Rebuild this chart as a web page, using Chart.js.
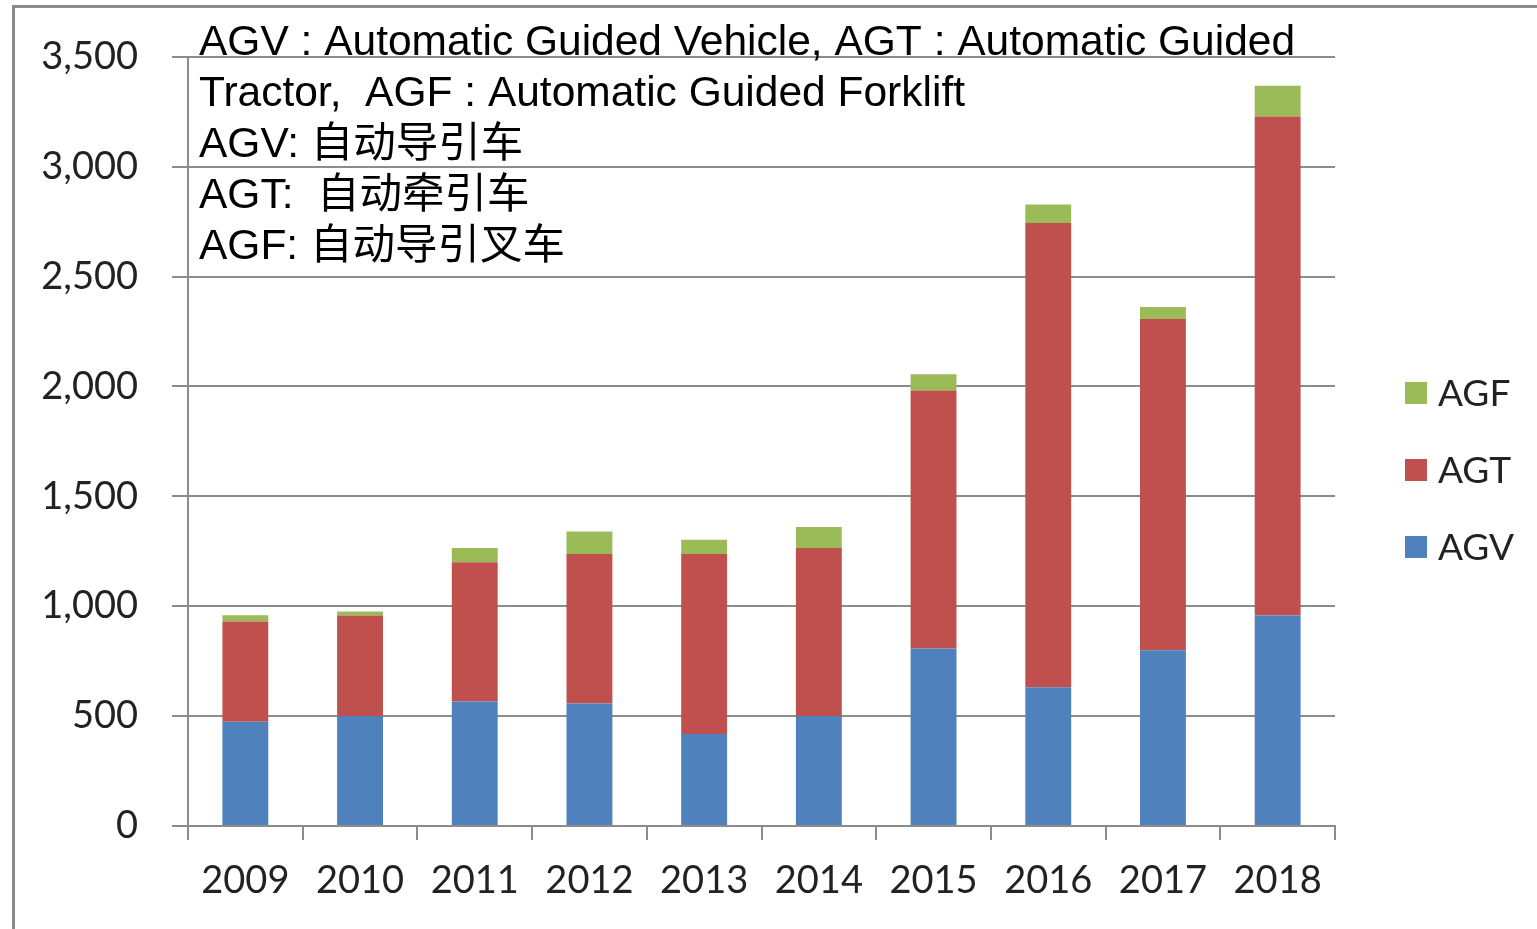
<!DOCTYPE html>
<html>
<head>
<meta charset="utf-8">
<script src="https://cdn.jsdelivr.net/npm/chart.js@4"></script>
<style>
  html, body { margin: 0; padding: 0; background: #fff; }
</style>
</head>
<body>
<canvas id="agvChart" width="1537" height="929"></canvas>
<script>
// Données
const years = ["2009", "2010", "2011", "2012", "2013", "2014", "2015", "2016", "2017", "2018"];
const agv = [474, 501, 566, 557, 419, 501, 808, 631, 800, 958];
const agt = [456, 457, 634, 681, 819, 764, 1174, 2113, 1507, 2270];
const agf = [29, 18, 65, 102, 65, 95, 73, 84, 55, 140];
const yTicks = [0, 500, 1000, 1500, 2000, 2500, 3000, 3500];

const noteLines = [
  "AGV : Automatic Guided Vehicle, AGT : Automatic Guided",
  "Tractor,  AGF : Automatic Guided Forklift",
  "AGV: 自动导引车",
  "AGT:  自动牵引车",
  "AGF: 自动导引叉车",
];

// Cadre gris (bord gauche et haut)
const framePlugin = {
  id: "frame",
  beforeDraw(chart) {
    const ctx = chart.ctx;
    ctx.save();
    ctx.strokeStyle = "#8a8a8a";
    ctx.lineWidth = 3;
    ctx.beginPath();
    ctx.moveTo(13.5, 929);
    ctx.lineTo(13.5, 6.5);
    ctx.lineTo(1537, 6.5);
    ctx.stroke();
    ctx.restore();
  },
};

// Texte d'annotation en haut à gauche
const notePlugin = {
  id: "note",
  afterDraw(chart) {
    const ctx = chart.ctx;
    ctx.save();
    ctx.fillStyle = "#000";
    ctx.font = '42.5px "Liberation Sans", Arial, "Noto Sans CJK SC"';
    ctx.textBaseline = "middle";
    noteLines.forEach((line, i) => {
      ctx.fillText(line, 199, 43 + i * 51);
    });
    ctx.restore();
  },
};

// Légende à droite (ordre inversé)
const legendPlugin = {
  id: "sideLegend",
  afterDraw(chart) {
    const ctx = chart.ctx;
    const sets = chart.data.datasets.slice().reverse();
    ctx.save();
    ctx.font = "37px Lato";
    ctx.textBaseline = "middle";
    sets.forEach((ds, i) => {
      const y = 393 + i * 77;
      ctx.fillStyle = ds.backgroundColor;
      ctx.fillRect(1405, y - 11, 22, 22);
      ctx.fillStyle = "#222";
      ctx.fillText(ds.label, 1438, y + 1);
    });
    ctx.restore();
  },
};

const gridColor = "#8c8c8c";

new Chart(document.getElementById("agvChart"), {
  type: "bar",
  data: {
    labels: years,
    datasets: [
      { label: "AGV", data: agv, backgroundColor: "#4F81BD" },
      { label: "AGT", data: agt, backgroundColor: "#C0504D" },
      { label: "AGF", data: agf, backgroundColor: "#9BBB59" },
    ],
  },
  options: {
    responsive: false,
    animation: false,
    layout: {
      padding: { left: 0, top: 53, right: 202, bottom: 0 },
    },
    datasets: {
      bar: { barPercentage: 0.4, categoryPercentage: 1 },
    },
    plugins: {
      legend: { display: false },
      tooltip: { enabled: false },
    },
    scales: {
      x: {
        stacked: true,
        grid: {
          drawOnChartArea: false,
          drawTicks: true,
          tickLength: 14,
          color: gridColor,
          lineWidth: 2,
        },
        border: { color: gridColor, width: 2 },
        ticks: {
          color: "#222",
          font: { family: "Lato", size: 38 },
          padding: 18,
          maxRotation: 0,
        },
        afterFit: (scale) => {
          scale.height = 103;
        },
      },
      y: {
        stacked: true,
        min: 0,
        max: 3500,
        grid: {
          color: gridColor,
          lineWidth: 2,
          tickLength: 16,
        },
        border: { color: gridColor, width: 2 },
        ticks: {
          color: "#222",
          font: { family: "Lato", size: 38 },
          padding: 34,
          stepSize: 500,
          callback: (v) => (yTicks.includes(v) ? v.toLocaleString("en-US") : ""),
        },
        afterFit: (scale) => {
          scale.width = 188;
        },
      },
    },
  },
  plugins: [framePlugin, notePlugin, legendPlugin],
});
</script>
</body>
</html>
